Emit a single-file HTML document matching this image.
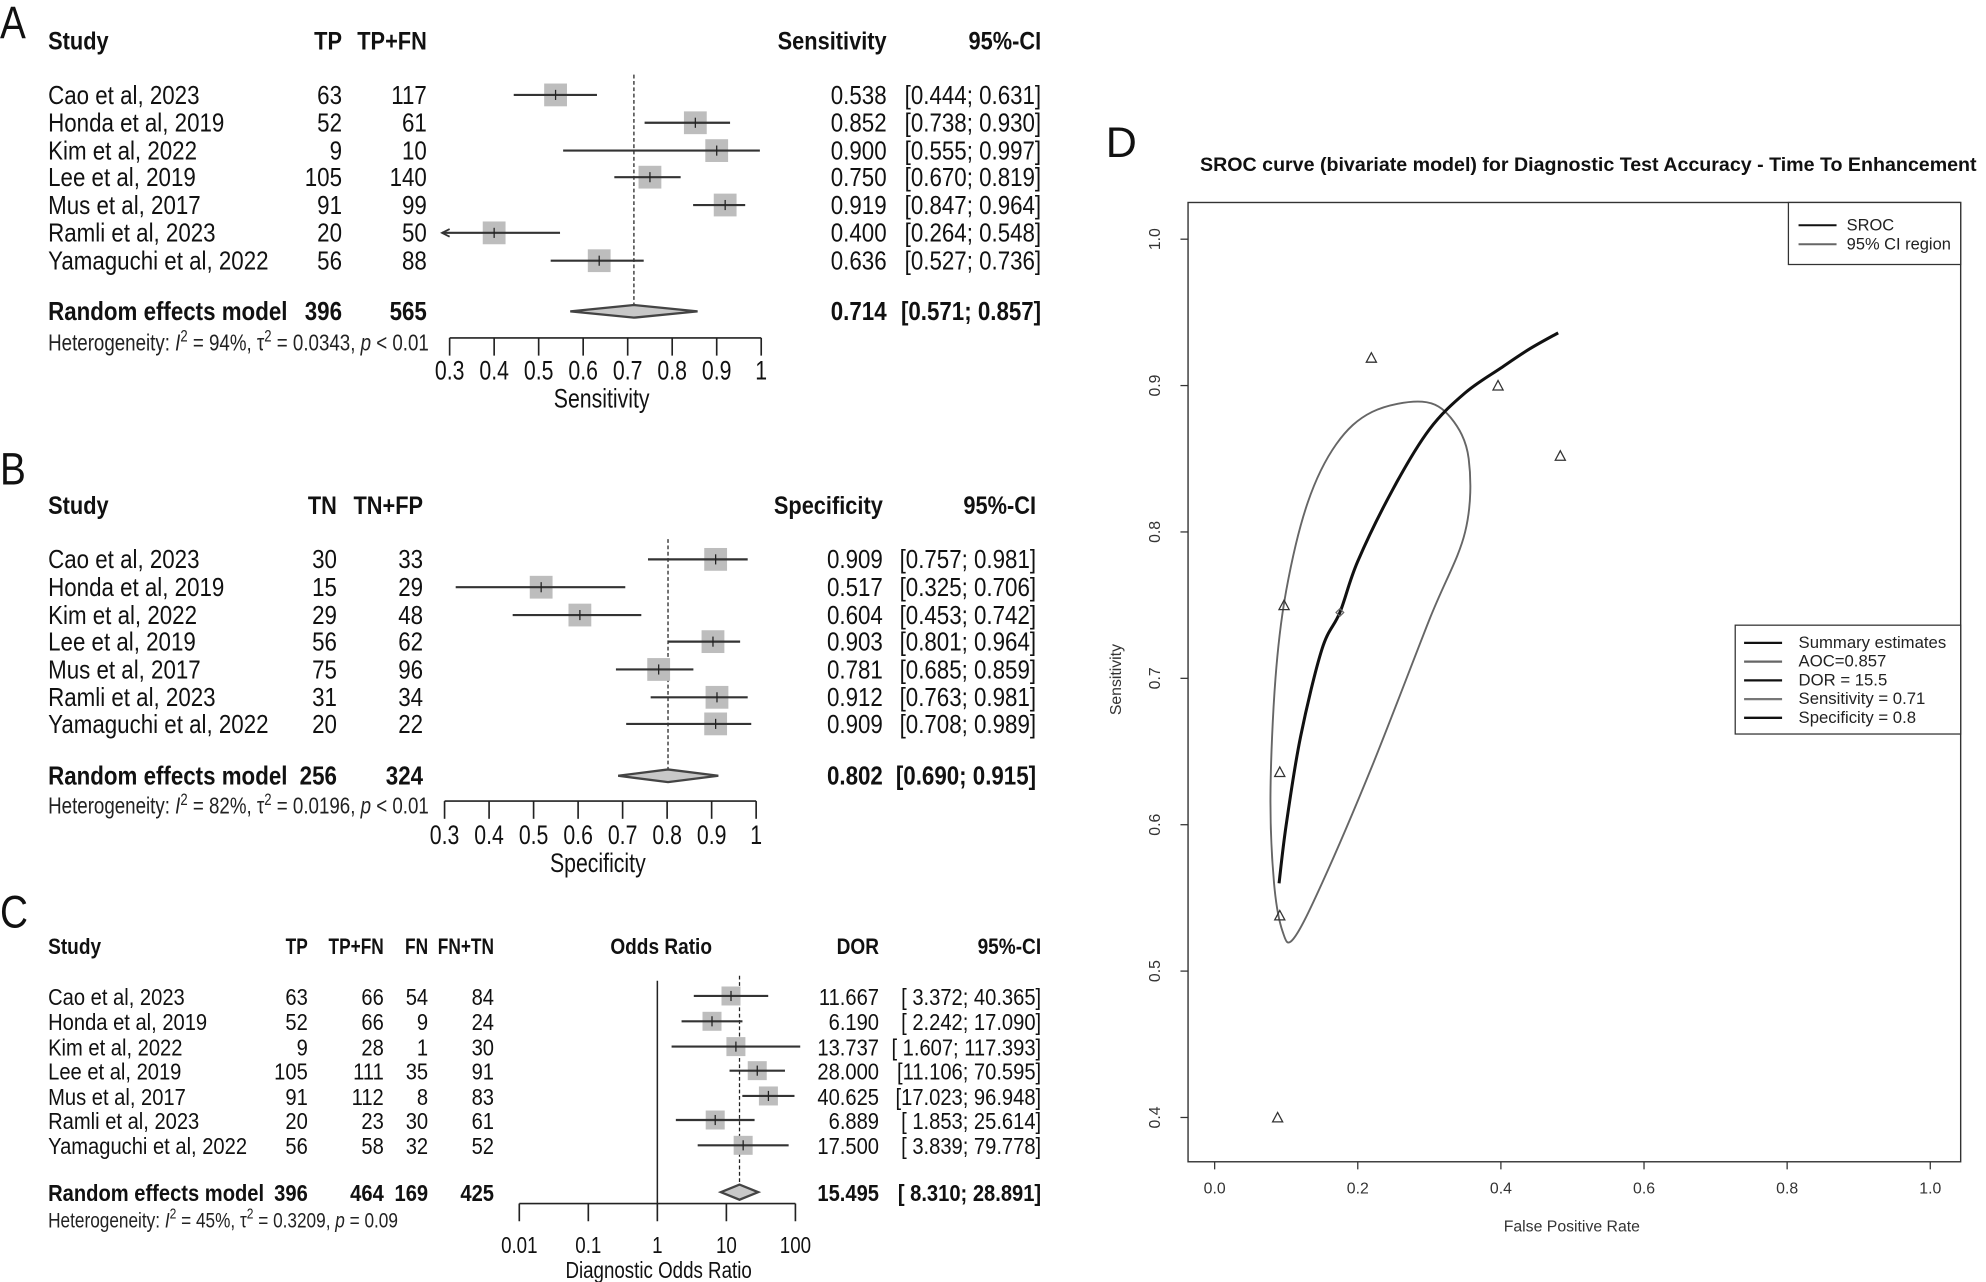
<!DOCTYPE html>
<html><head><meta charset="utf-8"><style>
html,body{margin:0;padding:0;background:#fff;}
svg{display:block;font-family:"Liberation Sans",sans-serif;}
</style></head><body>
<svg id="fig" width="1986" height="1282" viewBox="0 0 1568 1013" preserveAspectRatio="none" xmlns="http://www.w3.org/2000/svg"></svg>
<script>
// ---- Panel A data ----
const studies = ["Cao et al, 2023","Honda et al, 2019","Kim et al, 2022","Lee et al, 2019","Mus et al, 2017","Ramli et al, 2023","Yamaguchi et al, 2022"];
const sensTP = [63,52,9,105,91,20,56];
const sensTotal = [117,61,10,140,99,50,88];
const sensEst = [0.538,0.852,0.900,0.750,0.919,0.400,0.636];
const sensLo = [0.444,0.738,0.555,0.670,0.847,0.264,0.527];
const sensHi = [0.631,0.930,0.997,0.819,0.964,0.548,0.736];
const sensPooled = [0.714,0.571,0.857];
// ---- Panel B data ----
const specTN = [30,15,29,56,75,31,20];
const specTotal = [33,29,48,62,96,34,22];
const specEst = [0.909,0.517,0.604,0.903,0.781,0.912,0.909];
const specLo = [0.757,0.325,0.453,0.801,0.685,0.763,0.708];
const specHi = [0.981,0.706,0.742,0.964,0.859,0.981,0.989];
const specPooled = [0.802,0.690,0.915];
const linTicks = [0.3,0.4,0.5,0.6,0.7,0.8,0.9,1];
const linTickLabels = ["0.3","0.4","0.5","0.6","0.7","0.8","0.9","1"];
// ---- Panel C data ----
const dorTP = [63,52,9,105,91,20,56];
const dorTPFN = [66,66,28,111,112,23,58];
const dorFN = [54,9,1,35,8,30,32];
const dorFNTN = [84,24,30,91,83,61,52];
const dorEst = [11.667,6.190,13.737,28.000,40.625,6.889,17.500];
const dorLo = [3.372,2.242,1.607,11.106,17.023,1.853,3.839];
const dorHi = [40.365,17.090,117.393,70.595,96.948,25.614,79.778];
const dorPooled = [15.495,8.310,28.891];
const logTicks = [0.01,0.1,1,10,100];
const logTickLabels = ["0.01","0.1","1","10","100"];
// ---- Panel D data ----
const fprPts = [0.091,0.483,0.396,0.097,0.219,0.088,0.091];
const senPts = [0.538,0.852,0.900,0.750,0.919,0.400,0.636];
const summaryPt = [0.175,0.745];
const srocFpr = [0.09,0.10,0.12,0.15,0.175,0.20,0.25,0.30,0.35,0.40,0.44,0.48];
const srocSen = [0.56,0.60,0.66,0.72,0.745,0.78,0.83,0.87,0.895,0.912,0.925,0.936];
const ciFpr = [0.29,0.33,0.355,0.35,0.30,0.22,0.15,0.11,0.095,0.083,0.078,0.085,0.10,0.13,0.17,0.22];
const ciSen = [0.889,0.878,0.85,0.80,0.74,0.64,0.56,0.522,0.527,0.56,0.62,0.70,0.76,0.82,0.86,0.882];
const dTicks = [0,0.2,0.4,0.6,0.8,1];
const dTickLabels = ["0.0","0.2","0.4","0.6","0.8","1.0"];
const dYTicks = [0.4,0.5,0.6,0.7,0.8,0.9,1];
const dYTickLabels = ["0.4","0.5","0.6","0.7","0.8","0.9","1.0"];

const NS = "http://www.w3.org/2000/svg";
const svg = document.getElementById("fig");
function mk(parent, tag, attrs, name){
  const el = document.createElementNS(NS, tag);
  for (const k in attrs) el.setAttribute(k, attrs[k]);
  
  
  parent.appendChild(el);
  return el;
}
function txt(parent, x, y, s, name, opt){
  opt = opt || {};
  const sx = opt.sx || 0.86;
  const t = mk(parent, 'text', {transform:`translate(${x},${y}) scale(${sx},1)`, 'font-size':opt.size||16, 'text-anchor':opt.anchor||'start', 'font-weight':opt.bold?'bold':'normal', fill:opt.fill||'#111'}, name);
  t.textContent = s;
  return t;
}
function hetero(parent, x, y, I2, tau, p, size){
  const t = mk(parent,'text',{transform:`translate(${x},${y}) scale(0.8,1)`,'font-size':size,fill:'#222'},'heterogeneity-text');
  t.innerHTML = `Heterogeneity: <tspan font-style="italic">I</tspan><tspan dy="-7" font-size="${size*0.7}">2</tspan><tspan dy="7"> = ${I2}, τ</tspan><tspan dy="-7" font-size="${size*0.7}">2</tspan><tspan dy="7"> = ${tau}, </tspan><tspan font-style="italic">p</tspan> ${p}`;
}
function smoothPath(pts, closed){
  const n = pts.length;
  let d = `M${pts[0][0]},${pts[0][1]}`;
  const last = closed ? n : n-1;
  for(let i=0;i<last;i++){
    const p0 = closed ? pts[(i-1+n)%n] : pts[Math.max(i-1,0)];
    const p1 = pts[i];
    const p2 = closed ? pts[(i+1)%n] : pts[i+1];
    const p3 = closed ? pts[(i+2)%n] : pts[Math.min(i+2,n-1)];
    d += ` C${p1[0]+(p2[0]-p0[0])/6},${p1[1]+(p2[1]-p0[1])/6} ${p2[0]-(p3[0]-p1[0])/6},${p2[1]-(p3[1]-p1[1])/6} ${p2[0]},${p2[1]}`;
  }
  return closed ? d+'Z' : d;
}

function forest(cfg){
  const g = mk(svg,'g',{},cfg.name);
  txt(g, cfg.letterX, cfg.letterY, cfg.letter, 'panel-letter', {size:36, sx:0.85});
  const H = cfg.hdr;
  txt(g,38,H,'Study','header-study',{bold:true,size:cfg.hfsz});
  cfg.cols.forEach((c,i)=>txt(g,c.x,H,c.title,'header-col',{bold:true,size:cfg.hfsz,anchor:'end',sx:cfg.hsx||0.86}));
  cfg.rightHdr.forEach(c=>txt(g,c.x,H,c.title,'header-right',{bold:true,size:cfg.hfsz,anchor:'end'}));
  if(cfg.midTitle) txt(g,cfg.midTitle.x,H,cfg.midTitle.t,'header-odds-ratio',{bold:true,size:cfg.hfsz,anchor:'middle'});
  const sc = cfg.scale;
  if(cfg.solidAt!==undefined) mk(g,'line',{x1:sc(cfg.solidAt),x2:sc(cfg.solidAt),y1:cfg.rowY[0]-12,y2:cfg.axisY,stroke:'#222','stroke-width':1.2},'null-line');
  mk(g,'line',{x1:sc(cfg.pooled[0]),x2:sc(cfg.pooled[0]),y1:cfg.rowY[0]-16,y2:cfg.poolY,stroke:'#222','stroke-width':1,'stroke-dasharray':'3,2'},'pooled-dashed-line');
  cfg.rowY.forEach((y,i)=>{
    txt(g,38,y+7,studies[i],'study-label',{size:cfg.fs});
    cfg.cols.forEach(c=>txt(g,c.x,y+7,String(c.data[i]),'count-value',{size:cfg.fs,anchor:'end'}));
    txt(g,cfg.estX,y+7,cfg.estFmt(cfg.est[i]),'estimate-value',{size:cfg.fs,anchor:'end'});
    txt(g,cfg.ciX,y+7,cfg.ciFmt(cfg.lo[i],cfg.hi[i]),'ci-value',{size:cfg.fs,anchor:'end'});
    const cx = sc(cfg.est[i]);
    const s = cfg.sq;
    mk(g,'rect',{x:cx-s/2,y:y-s/2,width:s,height:s,fill:'#bdbdbd'},'study-square');
    let x1 = sc(cfg.lo[i]), x2 = sc(cfg.hi[i]);
    const arrow = x1 < cfg.xMin;
    x1 = Math.max(x1,cfg.xMin-6); x2 = Math.min(x2,cfg.xMax+6);
    mk(g,'line',{x1:x1,x2:x2,y1:y,y2:y,stroke:'#333','stroke-width':1.7},'ci-line');
    if(arrow) mk(g,'path',{d:`M${x1+6},${y-3} L${x1},${y} L${x1+6},${y+3}`,fill:'none',stroke:'#333','stroke-width':1.4},'ci-arrow');
    mk(g,'line',{x1:cx,x2:cx,y1:y-4,y2:y+4,stroke:'#222','stroke-width':1},'estimate-tick');
  });
  const py = cfg.poolY;
  txt(g,38,py+7,'Random effects model','pooled-label',{bold:true,size:cfg.fs});
  cfg.cols.forEach(c=>txt(g,c.x,py+7,String(c.pool),'pooled-count',{bold:true,size:cfg.fs,anchor:'end'}));
  txt(g,cfg.estX,py+7,cfg.estFmt(cfg.pooled[0]),'pooled-estimate',{bold:true,size:cfg.fs,anchor:'end'});
  txt(g,cfg.ciX,py+7,cfg.ciFmt(cfg.pooled[1],cfg.pooled[2]),'pooled-ci',{bold:true,size:cfg.fs,anchor:'end'});
  const dh = cfg.dh;
  mk(g,'polygon',{points:`${sc(cfg.pooled[1])},${py} ${sc(cfg.pooled[0])},${py-dh} ${sc(cfg.pooled[2])},${py} ${sc(cfg.pooled[0])},${py+dh}`,fill:'#c8c8c8',stroke:'#444','stroke-width':1.8},'pooled-diamond');
  hetero(g,38,cfg.hetY,cfg.het[0],cfg.het[1],cfg.het[2],cfg.hfs);
  const ay = cfg.axisY;
  mk(g,'line',{x1:sc(cfg.ticks[0]),x2:sc(cfg.ticks[cfg.ticks.length-1]),y1:ay,y2:ay,stroke:'#222','stroke-width':1.3},'x-axis-line');
  cfg.ticks.forEach((t,i)=>{
    mk(g,'line',{x1:sc(t),x2:sc(t),y1:ay,y2:ay+14,stroke:'#222','stroke-width':1.3},'x-axis-tick');
    txt(g,sc(t),cfg.tickLabY,cfg.tickLabels[i],'x-tick-label',{size:cfg.tfs,anchor:'middle',sx:0.8});
  });
  txt(g,cfg.axisTitleX,cfg.axisTitleY,cfg.axisTitle,'x-axis-title',{size:cfg.tfs,anchor:'middle',sx:0.8});
}
const f3 = v=>v.toFixed(3);
const ci3 = (a,b)=>`[${a.toFixed(3)}; ${b.toFixed(3)}]`;
const rowsA = [75,97,119,140,162,184,206];
const linA = v=>355+(v-0.3)*(601-355)/0.7;
forest({name:'panel-a-sensitivity-forest',letter:'A',letterX:0,letterY:30,hdr:39,hfsz:20,
  cols:[{x:270,title:'TP',data:sensTP,pool:396},{x:337,title:'TP+FN',data:sensTotal,pool:565}],
  rightHdr:[{x:700,title:'Sensitivity'},{x:822,title:'95%-CI'}],
  scale:linA,xMin:355,xMax:601,pooled:sensPooled,poolY:246,rowY:rowsA,fs:20.5,
  est:sensEst,lo:sensLo,hi:sensHi,estX:700,ciX:822,estFmt:f3,ciFmt:ci3,sq:18,dh:5,
  het:['94%','0.0343','< 0.01'],hetY:277,hfs:18.5,axisY:267,ticks:linTicks,tickLabels:linTickLabels,tickLabY:300,tfs:21,
  axisTitle:'Sensitivity',axisTitleX:475,axisTitleY:322});
const rowsB = [442,464,486,507,529,551,572];
const linB = v=>351+(v-0.3)*(597-351)/0.7;
forest({name:'panel-b-specificity-forest',letter:'B',letterX:0,letterY:383,hdr:406,hfsz:20,
  cols:[{x:266,title:'TN',data:specTN,pool:256},{x:334,title:'TN+FP',data:specTotal,pool:324}],
  rightHdr:[{x:697,title:'Specificity'},{x:818,title:'95%-CI'}],
  scale:linB,xMin:351,xMax:597,pooled:specPooled,poolY:613,rowY:rowsB,fs:20.5,
  est:specEst,lo:specLo,hi:specHi,estX:697,ciX:818,estFmt:f3,ciFmt:ci3,sq:18,dh:5,
  het:['82%','0.0196','< 0.01'],hetY:643,hfs:18.5,axisY:633,ticks:linTicks,tickLabels:linTickLabels,tickLabY:667,tfs:21,
  axisTitle:'Specificity',axisTitleX:472,axisTitleY:689});
const rowsC = [787,807,827,846,866,885,905];
const logC = v=>519+54.5*Math.log10(v);
forest({name:'panel-c-dor-forest',letter:'C',letterX:0,letterY:733,hdr:754,hfsz:17.5,hsx:0.78,
  cols:[{x:243,title:'TP',data:dorTP,pool:396},{x:303,title:'TP+FN',data:dorTPFN,pool:464},{x:338,title:'FN',data:dorFN,pool:169},{x:390,title:'FN+TN',data:dorFNTN,pool:425}],
  rightHdr:[{x:694,title:'DOR'},{x:822,title:'95%-CI'}],midTitle:{x:522,t:'Odds Ratio'},
  scale:logC,xMin:410,xMax:628,solidAt:1,pooled:dorPooled,poolY:942,rowY:rowsC,fs:18.5,
  est:dorEst,lo:dorLo,hi:dorHi,estX:694,ciX:822,estFmt:f3,ciFmt:(a,b)=>`[${a<10?' ':''}${a.toFixed(3)}; ${b<100?' ':''}${b.toFixed(3)}]`,sq:15,dh:6,
  het:['45%','0.3209','= 0.09'],hetY:970,hfs:17,axisY:951,ticks:logTicks,tickLabels:logTickLabels,tickLabY:990,tfs:18.5,
  axisTitle:'Diagnostic Odds Ratio',axisTitleX:520,axisTitleY:1010});

// ---- Panel D ----
const gD = mk(svg,'g',{},'panel-d-sroc');
txt(gD,873,124,'D','panel-letter',{size:34,sx:1});
txt(gD,1254,135,'SROC curve (bivariate model) for Diagnostic Test Accuracy - Time To Enhancement','sroc-title',{bold:true,size:15.5,anchor:'middle',sx:1});
const X = v=>959+v*(1524-959);
const Y = v=>883-(v-0.4)*(883-189)/0.6;
mk(gD,'rect',{x:938,y:160,width:610,height:758,fill:'none',stroke:'#333','stroke-width':1.1},'plot-frame');
dTicks.forEach((t,i)=>{
  mk(gD,'line',{x1:X(t),x2:X(t),y1:918,y2:924,stroke:'#333'},'x-tick');
  txt(gD,X(t),943,dTickLabels[i],'x-tick-label',{size:12.5,anchor:'middle',sx:1,fill:'#333'});
});
dYTicks.forEach((t,i)=>{
  mk(gD,'line',{x1:932,x2:938,y1:Y(t),y2:Y(t),stroke:'#333'},'y-tick');
  const tl = mk(gD,'text',{transform:`translate(916,${Y(t)}) rotate(-90)`,'font-size':12.5,'text-anchor':'middle',fill:'#333'},'y-tick-label');
  tl.textContent = dYTickLabels[i];
});
txt(gD,1241,973,'False Positive Rate','x-axis-title',{size:12.5,anchor:'middle',sx:1,fill:'#333'});
const yt = mk(gD,'text',{transform:'translate(885,537) rotate(-90)','font-size':12.5,'text-anchor':'middle',fill:'#333'},'y-axis-title');
yt.textContent = 'Sensitivity';
const cpts = ciFpr.map((f,i)=>[X(f),Y(ciSen[i])]);
mk(gD,'path',{d:smoothPath(cpts,true),fill:'none',stroke:'#666','stroke-width':1.5},'ci-region');
const spts = srocFpr.map((f,i)=>[X(f),Y(srocSen[i])]);
mk(gD,'path',{d:smoothPath(spts,false),fill:'none',stroke:'#111','stroke-width':2.4},'sroc-curve');
fprPts.forEach((f,i)=>{
  const x=X(f),y=Y(senPts[i]);
  mk(gD,'path',{d:`M${x-4},${y+3.5} L${x},${y-4} L${x+4},${y+3.5} Z`,fill:'none',stroke:'#333','stroke-width':1},'study-point');
});
mk(gD,'path',{d:`M${X(summaryPt[0])-3},${Y(summaryPt[1])} L${X(summaryPt[0])},${Y(summaryPt[1])-3} L${X(summaryPt[0])+3},${Y(summaryPt[1])} L${X(summaryPt[0])},${Y(summaryPt[1])+3} Z`,fill:'none',stroke:'#666','stroke-width':1},'summary-point');
mk(gD,'rect',{x:1412,y:160,width:136,height:49,fill:'#fff',stroke:'#333','stroke-width':1},'legend-sroc-box');
[['SROC','#111'],['95% CI region','#666']].forEach((e,i)=>{
  const y=178+i*15;
  mk(gD,'line',{x1:1420,x2:1450,y1:y,y2:y,stroke:e[1],'stroke-width':1.6},'legend-swatch');
  txt(gD,1458,y+4,e[0],'legend-entry',{size:13,sx:1,fill:'#222'});
});
mk(gD,'rect',{x:1370,y:494,width:178,height:86,fill:'#fff',stroke:'#333','stroke-width':1},'legend-summary-box');
[['Summary estimates','#111'],['AOC=0.857','#666'],['DOR = 15.5','#111'],['Sensitivity = 0.71','#777'],['Specificity = 0.8','#111']].forEach((e,i)=>{
  const y=508+i*14.8;
  mk(gD,'line',{x1:1377,x2:1407,y1:y,y2:y,stroke:e[1],'stroke-width':1.8},'legend-swatch');
  txt(gD,1420,y+4,e[0],'legend-entry',{size:13.2,sx:1,fill:'#222'});
});
</script>
</body></html>
